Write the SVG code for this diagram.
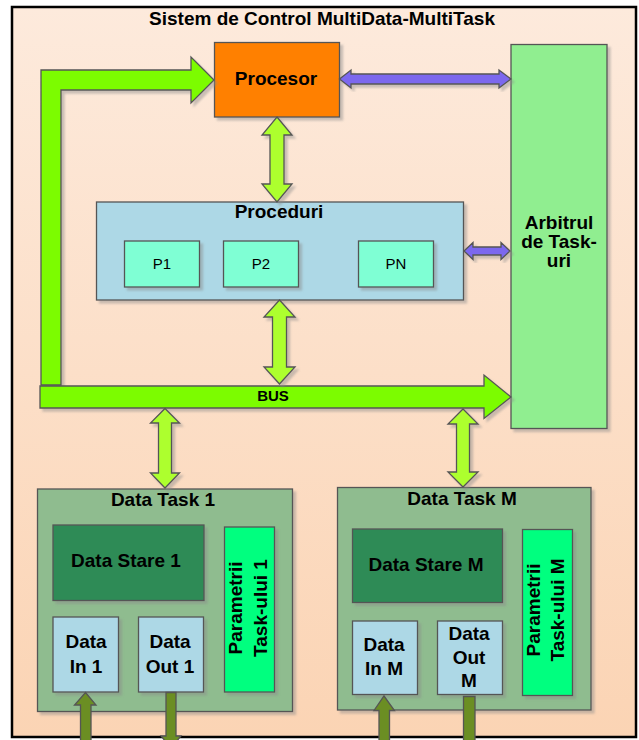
<svg xmlns="http://www.w3.org/2000/svg" width="639" height="740" viewBox="0 0 639 740">
<defs>
<linearGradient id="bg" x1="0" y1="0" x2="0" y2="1">
<stop offset="0" stop-color="#FDEADC"/>
<stop offset="1" stop-color="#FBD4B4"/>
</linearGradient>
<filter id="sh" x="-10%" y="-10%" width="130%" height="130%">
<feGaussianBlur in="SourceAlpha" stdDeviation="1.2"/>
<feOffset dx="3" dy="3" result="o"/>
<feFlood flood-color="#8a8a8a" flood-opacity="0.45"/>
<feComposite in2="o" operator="in"/>
<feMerge><feMergeNode/><feMergeNode in="SourceGraphic"/></feMerge>
</filter>
</defs>
<style>
.b{stroke:#555;stroke-width:1.3;filter:url(#sh)}
.t{font-family:"Liberation Sans",Arial,sans-serif;font-weight:bold;font-size:19px;fill:#000;text-anchor:middle}
.r{font-family:"Liberation Sans",Arial,sans-serif;font-size:15px;fill:#000;text-anchor:middle}
.bus{fill:#7CFC00;stroke:#555;stroke-width:1.3;filter:url(#sh)}
.dbl{fill:#ADFF2F;stroke:#555;stroke-width:1.3;filter:url(#sh)}
.pur{fill:#7B68EE;stroke:#555;stroke-width:1.3;filter:url(#sh)}
.olv{fill:#6B8E23;stroke:#555;stroke-width:1.3}
</style>
<rect width="639" height="740" fill="#fff"/>
<rect id="frame" x="12" y="7" width="624" height="730" fill="url(#bg)" stroke="#000" stroke-width="2.5"/>
<text class="t" x="322" y="25">Sistem de Control MultiData-MultiTask</text>

<g id="procesor">
<rect class="b" x="214.5" y="42.5" width="125" height="74.5" fill="#FF8000"/>
<text class="t" x="276" y="85">Procesor</text>
</g>

<g id="arbitru">
<rect class="b" x="511" y="44.5" width="96" height="384" fill="#90EE90"/>
<text class="t" x="559" y="229">Arbitrul</text>
<text class="t" x="559" y="248">de Task-</text>
<text class="t" x="559" y="267">uri</text>
</g>

<g id="proceduri">
<rect class="b" x="96.5" y="202" width="367" height="98" fill="#ADD8E6"/>
<text class="t" x="279" y="218">Proceduri</text>
<g id="p1"><rect class="b" x="124.5" y="241" width="75" height="46" fill="#7FFFD4"/><text class="r" x="162" y="269">P1</text></g>
<g id="p2"><rect class="b" x="223.5" y="241" width="75" height="46" fill="#7FFFD4"/><text class="r" x="261" y="269">P2</text></g>
<g id="pn"><rect class="b" x="358.5" y="241" width="75" height="46" fill="#7FFFD4"/><text class="r" x="396" y="269">PN</text></g>
</g>

<g id="datatask1">
<rect class="b" x="37.5" y="489" width="255" height="222.5" fill="#8FBC8F"/>
<text class="t" x="163" y="506">Data Task 1</text>
<g id="stare1"><rect class="b" x="53" y="525" width="151" height="75.5" fill="#2E8B57"/><text class="t" x="126" y="567">Data Stare 1</text></g>
<g id="param1"><rect class="b" x="224.5" y="527" width="50" height="165" fill="#00FF7F"/>
<text class="t" transform="translate(242,608) rotate(-90)">Parametrii</text>
<text class="t" transform="translate(267,608) rotate(-90)">Task-ului 1</text></g>
<g id="in1"><rect class="b" x="53" y="617" width="65.5" height="75" fill="#ADD8E6"/><text class="t" x="86" y="648">Data</text><text class="t" x="86" y="673">In 1</text></g>
<g id="out1"><rect class="b" x="138.5" y="617" width="65" height="75" fill="#ADD8E6"/><text class="t" x="170" y="648">Data</text><text class="t" x="170" y="673">Out 1</text></g>
</g>

<g id="datataskM">
<rect class="b" x="337.5" y="487.5" width="253.5" height="222.5" fill="#8FBC8F"/>
<text class="t" x="462" y="505">Data Task M</text>
<g id="stareM"><rect class="b" x="352.5" y="529" width="150" height="73.5" fill="#2E8B57"/><text class="t" x="426" y="571">Data Stare M</text></g>
<g id="paramM"><rect class="b" x="522.5" y="529.5" width="50" height="166" fill="#00FF7F"/>
<text class="t" transform="translate(540,610) rotate(-90)">Parametrii</text>
<text class="t" transform="translate(564,610) rotate(-90)">Task-ului M</text></g>
<g id="inM"><rect class="b" x="352.5" y="621" width="65" height="73.5" fill="#ADD8E6"/><text class="t" x="384" y="651">Data</text><text class="t" x="384" y="675">In M</text></g>
<g id="outM"><rect class="b" x="437.5" y="621" width="65" height="73.5" fill="#ADD8E6"/><text class="t" x="469" y="640">Data</text><text class="t" x="469" y="664">Out</text><text class="t" x="469" y="687">M</text></g>
</g>

<g id="connectors">
<path class="bus" d="M41,385 L41,70 L191,70 L191,57 L214,80 L191,103 L191,90 L61,90 L61,385 Z"/>
<path class="bus" d="M40,386 L484,386 L484,375 L511,397 L484,418.5 L484,408 L40,408 Z"/>
<text class="t" style="font-size:15px" x="273" y="401">BUS</text>
<path class="dbl" d="M277,117 L292,135 L284,135 L284,184 L292,184 L277,202 L262,184 L270,184 L270,135 L262,135 Z"/>
<path class="dbl" d="M279.5,300 L295,317 L286.5,317 L286.5,367 L295,367 L279.5,384 L264,367 L272.5,367 L272.5,317 L264,317 Z"/>
<path class="dbl" d="M165,408.5 L179.5,423 L171.5,423 L171.5,473 L179.5,473 L165,488 L150.5,473 L158.5,473 L158.5,423 L150.5,423 Z"/>
<path class="dbl" d="M463,409 L478,424 L469.5,424 L469.5,472 L478,472 L463,487 L448,472 L456.5,472 L456.5,424 L448,424 Z"/>
<path class="pur" d="M339.5,79 L351,70 L351,74 L499,74 L499,70 L511,79 L499,88 L499,84 L351,84 L351,88 Z"/>
<path class="pur" d="M464,251 L473,242.5 L473,247 L501,247 L501,242.5 L510,251 L501,259.5 L501,255 L473,255 L473,259.5 Z"/>
<path class="olv" d="M85.5,692.5 L96,705 L91,705 L91,745 L80.5,745 L80.5,705 L74.5,705 Z"/>
<path class="olv" d="M166,692.5 L176,692.5 L176,736 L181,736 L171,748 L161,736 L166,736 Z"/>
<path class="olv" d="M384,696 L394.5,710.5 L389.5,710.5 L389.5,745 L379,745 L379,710.5 L374,710.5 Z"/>
<path class="olv" d="M463.5,696.5 L475,696.5 L475,745 L480,745 L469,756 L458,745 L463.5,745 Z"/>
</g>
</svg>
